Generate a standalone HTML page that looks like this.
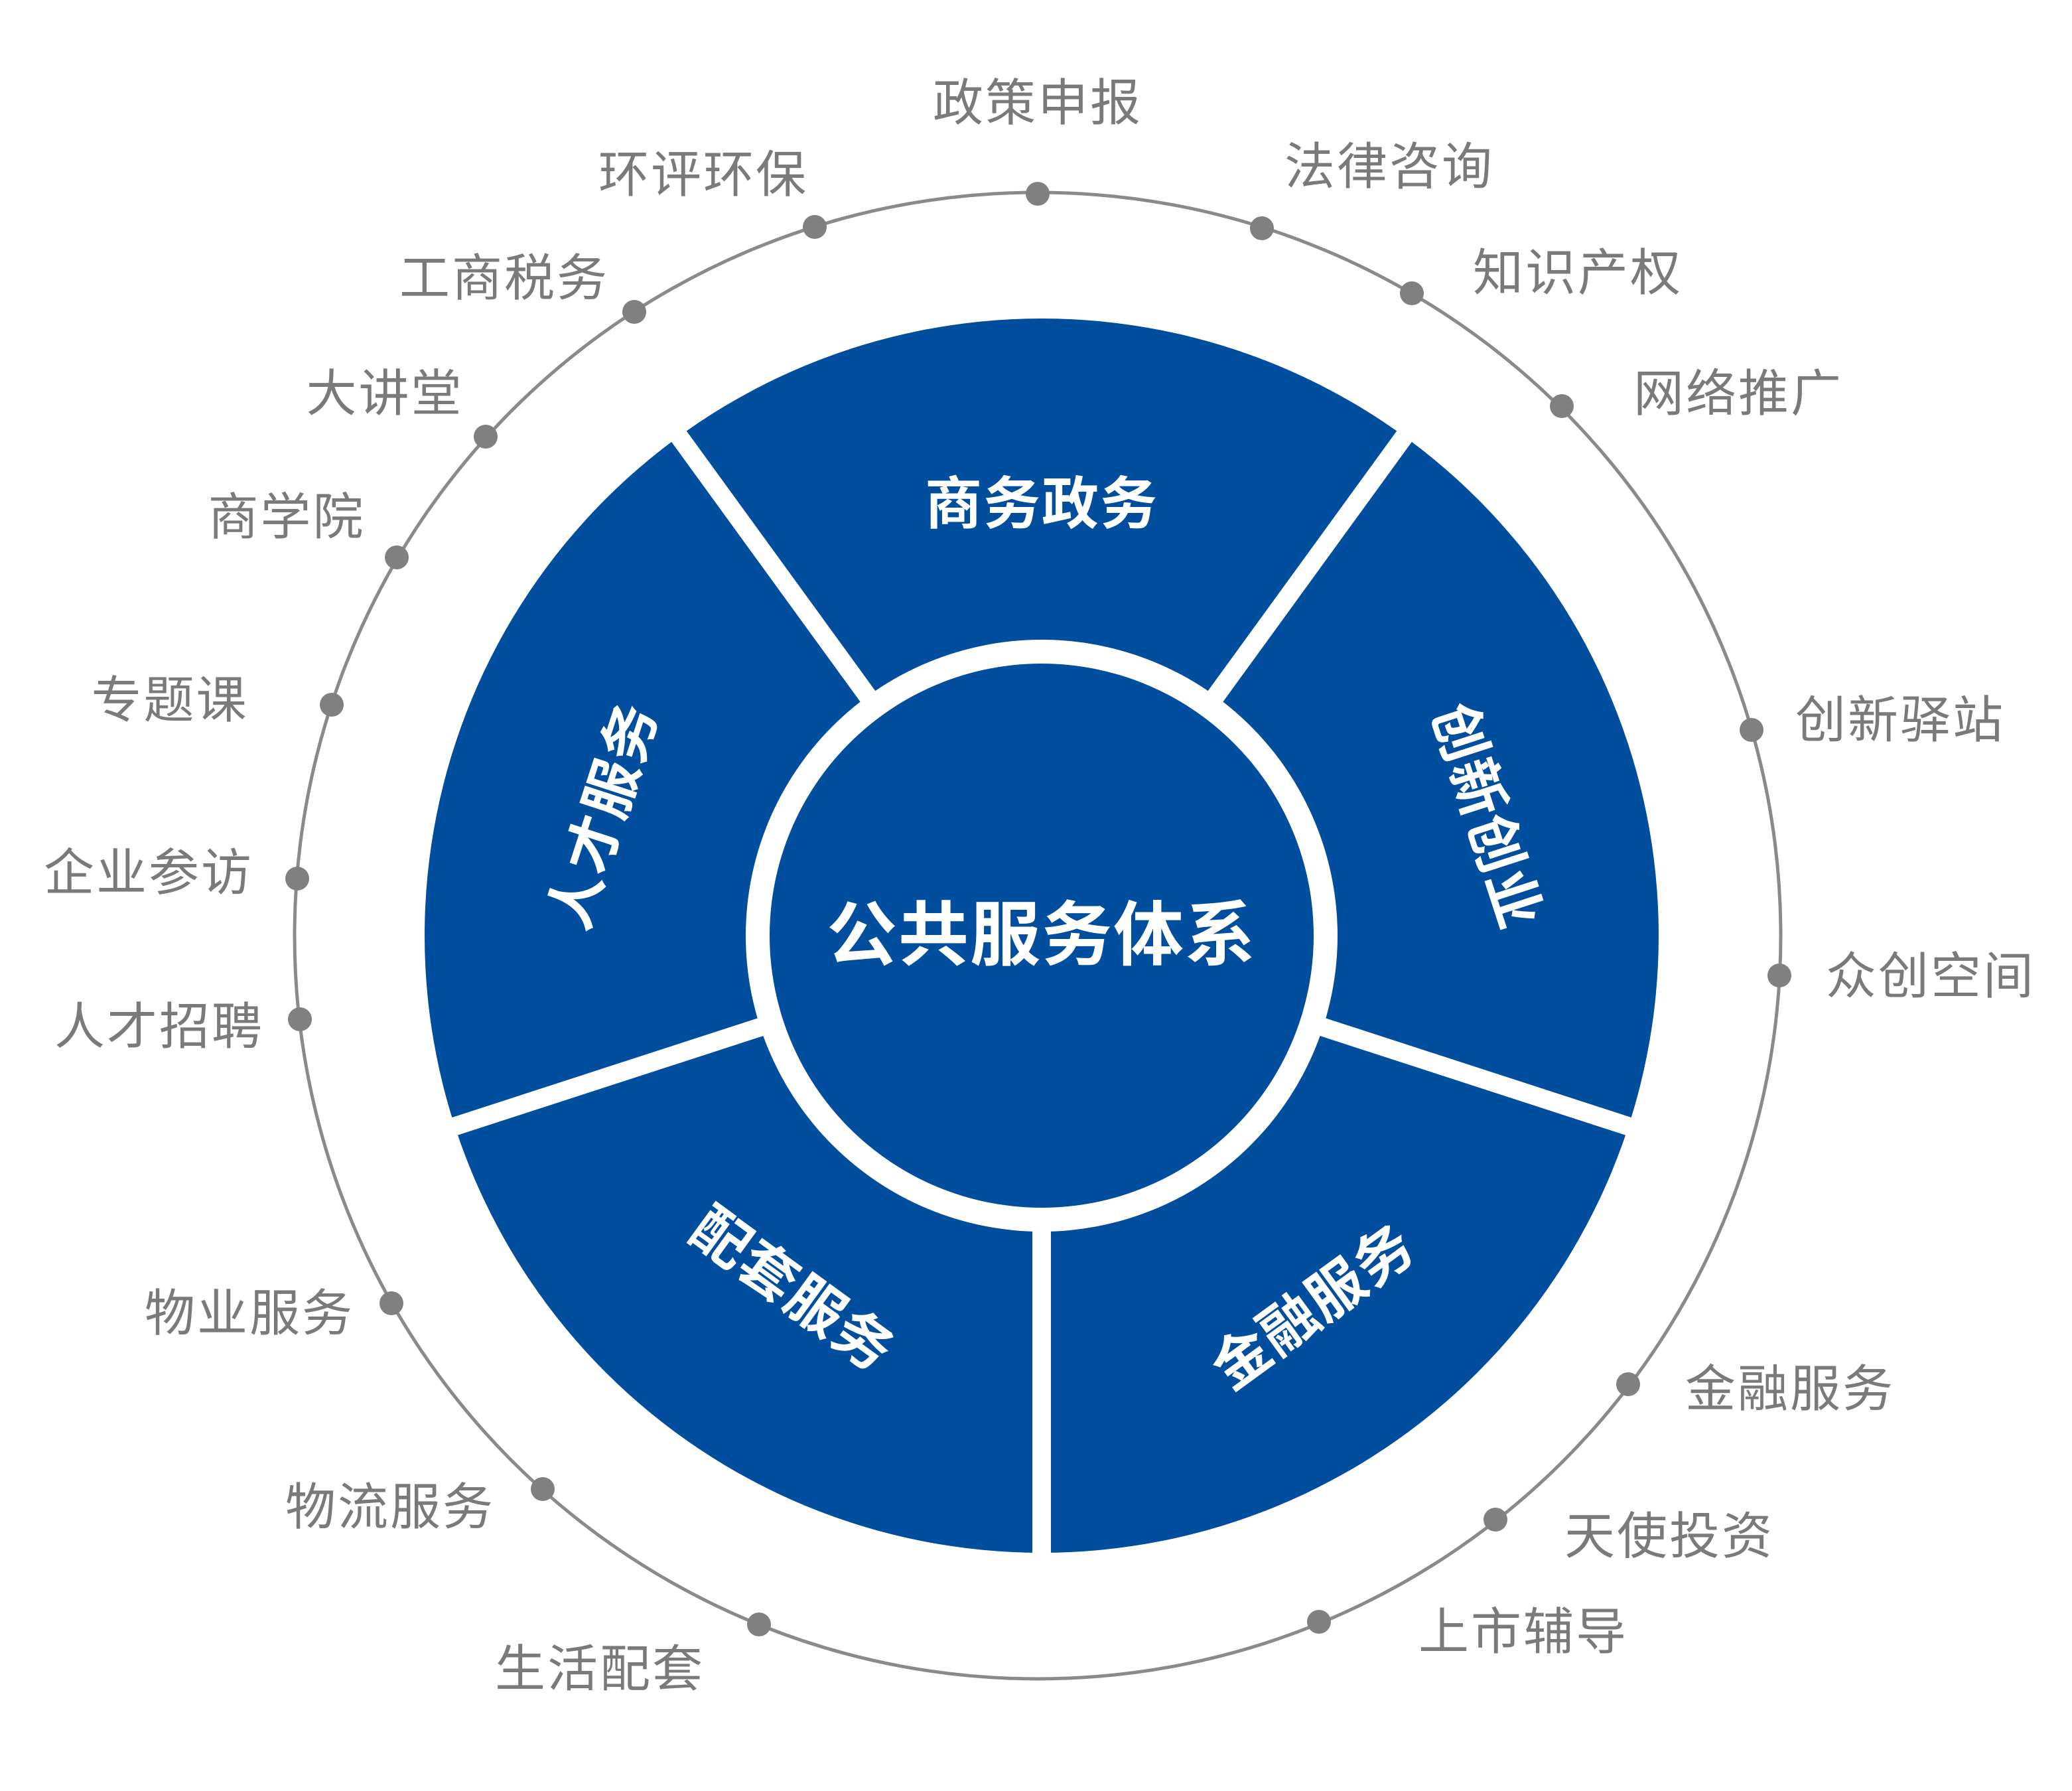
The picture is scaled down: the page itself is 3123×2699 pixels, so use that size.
<!DOCTYPE html>
<html><head><meta charset="utf-8"><style>
html,body{margin:0;padding:0;background:#fff;}
svg{display:block;}
text{font-family:"Liberation Sans","Noto Sans CJK SC",sans-serif;}
.o{fill:#7a7a7a;font-size:38px;letter-spacing:1.5px;text-anchor:middle;dominant-baseline:central;}
.s{fill:#fff;font-size:43px;font-weight:bold;text-anchor:middle;dominant-baseline:central;letter-spacing:1px;}
</style></head><body>
<svg width="3123" height="2699" viewBox="0 0 1561.5 1349.5" xmlns="http://www.w3.org/2000/svg">
<circle cx="782" cy="705" r="560" fill="none" stroke="#8a8a8a" stroke-width="2.5"/>
<circle cx="785" cy="705" r="465" fill="#024e9e"/>
<g stroke="#fff" stroke-width="14">
<line x1="785" y1="705" x2="785" y2="1200"/>
<g transform="rotate(-36 785 705)"><line x1="785" y1="705" x2="785" y2="200"/></g>
<g transform="rotate(36 785 705)"><line x1="785" y1="705" x2="785" y2="200"/></g>
<g transform="rotate(108 785 705)"><line x1="785" y1="705" x2="785" y2="200"/></g>
<g transform="rotate(-108 785 705)"><line x1="785" y1="705" x2="785" y2="200"/></g>
</g>
<circle cx="785" cy="705" r="223" fill="#fff"/>
<circle cx="785" cy="705" r="205" fill="#024e9e"/>
<text x="785" y="705" class="s" style="font-size:53px">公共服务体系</text>
<text x="785" y="380" class="s">商务政务</text>
<text class="s" transform="translate(1120,615) rotate(72)">创新创业</text>
<text class="s" transform="translate(455,615) rotate(-72)">人才服务</text>
<text class="s" transform="translate(990,985) rotate(-36)">金融服务</text>
<text class="s" transform="translate(597,972) rotate(36)">配套服务</text>
<g fill="#808080">
<circle cx="782" cy="146" r="9"/><circle cx="614" cy="171" r="9"/><circle cx="478" cy="235" r="9"/>
<circle cx="366" cy="329" r="9"/><circle cx="299" cy="420" r="9"/><circle cx="250" cy="531" r="9"/>
<circle cx="224" cy="662" r="9"/><circle cx="226" cy="768" r="9"/><circle cx="295" cy="982" r="9"/>
<circle cx="409" cy="1122" r="9"/><circle cx="572" cy="1224" r="9"/><circle cx="951" cy="172" r="9"/>
<circle cx="1064" cy="221" r="9"/><circle cx="1177" cy="306" r="9"/><circle cx="1320" cy="550" r="9"/>
<circle cx="1341" cy="735" r="9"/><circle cx="1227" cy="1043" r="9"/><circle cx="1127" cy="1145" r="9"/>
<circle cx="994" cy="1222" r="9"/>
</g>
<text class="o" x="782" y="78">政策申报</text>
<text class="o" x="530" y="132">环评环保</text>
<text class="o" x="380" y="210">工商税务</text>
<text class="o" x="290" y="297">大讲堂</text>
<text class="o" x="216" y="390">商学院</text>
<text class="o" x="128" y="528">专题课</text>
<text class="o" x="112" y="658">企业参访</text>
<text class="o" x="120" y="774">人才招聘</text>
<text class="o" x="188" y="990">物业服务</text>
<text class="o" x="294" y="1136">物流服务</text>
<text class="o" x="452" y="1258">生活配套</text>
<text class="o" x="1047" y="126">法律咨询</text>
<text class="o" x="1189" y="206">知识产权</text>
<text class="o" x="1310" y="297">网络推广</text>
<text class="o" x="1432" y="543">创新驿站</text>
<text class="o" x="1455" y="736">众创空间</text>
<text class="o" x="1349" y="1047">金融服务</text>
<text class="o" x="1258" y="1158">天使投资</text>
<text class="o" x="1148" y="1230">上市辅导</text>
</svg>
</body></html>
